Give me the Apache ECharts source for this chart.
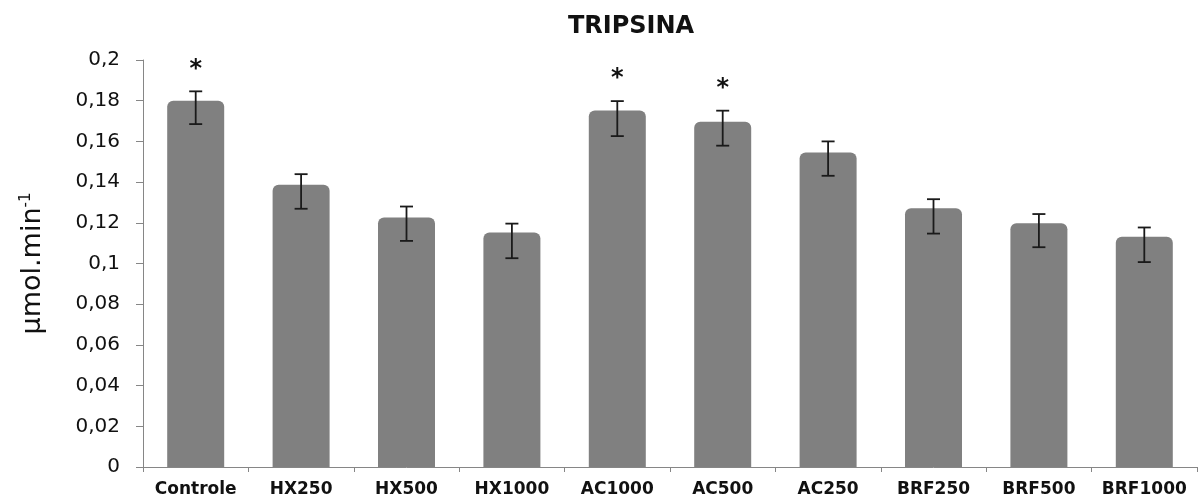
<!DOCTYPE html>
<html>
<head>
<meta charset="utf-8">
<script src="https://cdn.jsdelivr.net/npm/echarts@6/dist/echarts.min.js"></script>
<style>
html,body{margin:0;padding:0;background:#fff;}
#chart{width:1198px;height:499px;}
</style>
</head>
<body>
<div id="chart"></div>
<script>
const categories = ['Controle','HX250','HX500','HX1000','AC1000','AC500','AC250','BRF250','BRF500','BRF1000'];
const means   = [0.1800,0.1387,0.1226,0.1152,0.1752,0.1697,0.1546,0.1272,0.1198,0.1131];
const errLow  = [0.1685,0.1269,0.1111,0.1026,0.1626,0.1579,0.1431,0.1147,0.1080,0.1007];
const errHigh = [0.1846,0.1439,0.1280,0.1196,0.1798,0.1751,0.1600,0.1316,0.1243,0.1177];
const stars   = ['*','','','','*','*','','','',''];
const yTicks  = {min:0, max:0.2, interval:0.02};

const chart = echarts.init(document.getElementById('chart'), null, {renderer:'canvas'});
const errData = categories.map((c,i)=>[i, errLow[i], errHigh[i]]);

chart.setOption({
  animation:false,
  backgroundColor:'#ffffff',
  title:{
    text:'TRIPSINA',
    left:626, top:10, textAlign:'center',
    textStyle:{fontFamily:'DejaVu Sans', fontWeight:'bold', fontSize:24, color:'#111'}
  },
  grid:{left:143, right:1, top:60, bottom:32, containLabel:false},
  xAxis:{
    type:'category',
    data:categories,
    boundaryGap:true,
    axisLine:{lineStyle:{color:'#868686', width:1}},
    axisTick:{show:true, length:5, lineStyle:{color:'#868686'}},
    axisLabel:{margin:14, fontFamily:'DejaVu Sans', fontWeight:'bold', fontSize:17, color:'#111', interval:0}
  },
  yAxis:{
    type:'value',
    min:yTicks.min, max:yTicks.max, interval:yTicks.interval,
    name:'µmol.min{sup|-1}',
    nameLocation:'middle',
    nameGap:97,
    nameRotate:90,
    nameTextStyle:{
      fontFamily:'DejaVu Sans', fontSize:27, color:'#111',
      rich:{sup:{fontFamily:'DejaVu Sans', fontSize:15, color:'#111', verticalAlign:'top', padding:[0,0,12,0]}}
    },
    splitLine:{show:false},
    axisLine:{show:true, lineStyle:{color:'#868686', width:1}},
    axisTick:{show:true, length:7, lineStyle:{color:'#868686'}},
    axisLabel:{
      margin:23, fontFamily:'DejaVu Sans', fontSize:20, color:'#111',
      formatter:function(v){ return String(+v.toFixed(2)).replace('.',','); }
    }
  },
  series:[
    {
      type:'bar',
      data:means,
      barWidth:57,
      itemStyle:{color:'#808080', borderRadius:[6,6,0,0]},
      z:2
    },
    {
      type:'custom',
      data:errData,
      z:5,
      renderItem:function(params, api){
        const x = api.coord([api.value(0), 0])[0];
        const lo = api.coord([api.value(0), api.value(1)])[1];
        const hi = api.coord([api.value(0), api.value(2)])[1];
        const cap = 6.5;
        const st = {stroke:'#1a1a1a', lineWidth:1.8};
        const children = [
          {type:'line', shape:{x1:x, y1:hi, x2:x, y2:lo}, style:st},
          {type:'line', shape:{x1:x-cap, y1:hi, x2:x+cap, y2:hi}, style:st},
          {type:'line', shape:{x1:x-cap, y1:lo, x2:x+cap, y2:lo}, style:st}
        ];
        const s = stars[params.dataIndex];
        if (s) {
          children.push({type:'text', style:{text:s, x:x, y:hi-22, align:'center', verticalAlign:'middle',
            fontFamily:'DejaVu Sans', fontWeight:'bold', fontSize:24, fill:'#111'}});
        }
        return {type:'group', children:children};
      }
    }
  ]
});
</script>
</body>
</html>
